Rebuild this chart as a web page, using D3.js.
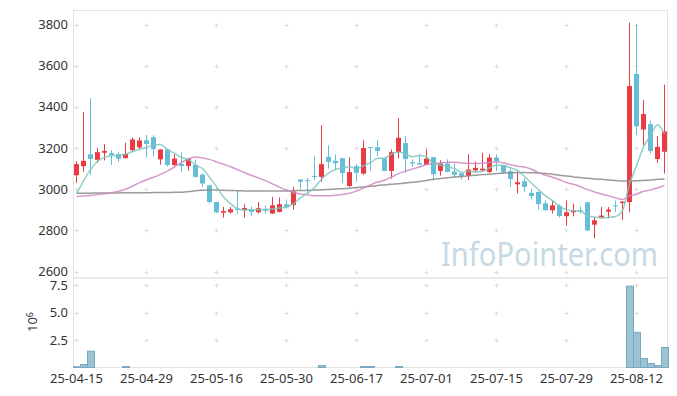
<!DOCTYPE html>
<html>
<head>
<meta charset="utf-8">
<script src="https://cdn.jsdelivr.net/npm/d3@7/dist/d3.min.js"></script>
<style>
body{margin:0;background:#fff}
text{font-family:"Noto Sans",sans-serif}
</style>
</head>
<body>
<svg id="main" width="677" height="396"></svg>
<script>
// trading days (yy-mm-dd)
const dates = [
 "25-04-15","25-04-16","25-04-17","25-04-18","25-04-21","25-04-22","25-04-23","25-04-24","25-04-25","25-04-28",
 "25-04-29","25-04-30","25-05-02","25-05-07","25-05-08","25-05-09","25-05-12","25-05-13","25-05-14","25-05-15",
 "25-05-16","25-05-19","25-05-20","25-05-21","25-05-22","25-05-23","25-05-26","25-05-27","25-05-28","25-05-29",
 "25-05-30","25-06-02","25-06-04","25-06-05","25-06-09","25-06-10","25-06-11","25-06-12","25-06-13","25-06-16",
 "25-06-17","25-06-18","25-06-19","25-06-20","25-06-23","25-06-24","25-06-25","25-06-26","25-06-27","25-06-30",
 "25-07-01","25-07-02","25-07-03","25-07-04","25-07-07","25-07-08","25-07-09","25-07-10","25-07-11","25-07-14",
 "25-07-15","25-07-16","25-07-17","25-07-18","25-07-21","25-07-22","25-07-23","25-07-24","25-07-25","25-07-28",
 "25-07-29","25-07-30","25-07-31","25-08-01","25-08-04","25-08-05","25-08-06","25-08-07","25-08-08","25-08-11",
 "25-08-12","25-08-13","25-08-14","25-08-18","25-08-19"
];
const open = [
 3068,3112,3170,3143,3177,3175,3170,3151,3190,3203, 3238,3253,3145,3193,3118,3123,3113,3118,3071,3019,
 2938,2886,2888,2906,2898,2903,2888,2905,2882,2890, 2927,2924,3047,3044,3065,3060,3157,3138,3151,3016,
 3112,3076,3205,3204,3151,3089,3180,3224,3131,3127, 3118,3156,3089,3125,3086,3078,3065,3092,3092,3084,
 3154,3117,3088,3024,3039,2982,2987,2932,2898,2920, 2869,2888,2898,2937,2828,2862,2891,2921,2933,2938,
 3560,3290,3316,3147,3182
];
const high = [
 3136,3375,3443,3200,3219,3190,3180,3225,3252,3252, 3263,3262,3195,3196,3170,3181,3150,3145,3076,3023,
 2940,2914,2914,2995,2927,2917,2938,2922,2963,2960, 2950,3011,3048,3055,3160,3310,3213,3170,3152,3155,
 3122,3238,3206,3238,3152,3193,3345,3258,3145,3170, 3193,3157,3141,3145,3125,3079,3170,3135,3177,3170,
 3170,3118,3100,3083,3052,3003,2988,2946,2943,2927, 2946,2930,2917,2938,2865,2914,2914,2946,2941,3809,
 3803,3433,3333,3258,3508
];
const low = [
 3031,3084,3070,3130,3140,3117,3133,3150,3180,3195, 3155,3160,3120,3110,3113,3085,3090,3057,3011,2930,
 2885,2862,2882,2882,2862,2869,2882,2882,2880,2888, 2906,2901,2998,2982,3044,3036,3100,3092,3031,3011,
 3036,3070,3090,3160,3088,3052,3149,3079,3108,3118, 3117,3044,3066,3083,3054,3047,3044,3083,3084,3079,
 3089,3079,3011,2979,2987,2950,2901,2897,2882,2862, 2823,2869,2882,2797,2762,2857,2859,2888,2851,2888,
 3264,3214,3174,3128,3076
];
const close = [
 3122,3138,3147,3180,3186,3165,3148,3172,3242,3237, 3220,3195,3193,3118,3149,3113,3149,3060,3028,2938,
 2888,2894,2903,2900,2909,2890,2908,2896,2922,2927, 2914,2989,3036,3040,3060,3122,3133,3126,3079,3083,
 3080,3200,3202,3186,3089,3180,3250,3147,3125,3120, 3149,3073,3125,3084,3070,3065,3096,3104,3100,3154,
 3135,3081,3050,3034,3011,2967,2928,2898,2922,2870, 2888,2898,2892,2800,2849,2872,2901,2917,2940,3501,
 3306,3365,3186,3206,3281
];
// volume, millions of shares
const volume = [
 0.07,0.27,1.48,0.02,0.02,0.02,0.02,0.09,0.02,0.02, 0.02,0.02,0.02,0.02,0.02,0.02,0.02,0.02,0.02,0.02,
 0.02,0.02,0.02,0.02,0.02,0.02,0.02,0.02,0.02,0.02, 0.02,0.02,0.02,0.02,0.02,0.18,0.02,0.02,0.02,0.02,
 0.02,0.09,0.09,0.02,0.02,0.02,0.09,0.02,0.02,0.02, 0.02,0.02,0.02,0.02,0.02,0.02,0.02,0.02,0.02,0.02,
 0.02,0.02,0.02,0.02,0.02,0.02,0.02,0.02,0.02,0.02, 0.02,0.02,0.02,0.02,0.02,0.02,0.02,0.02,0.02,7.4,
 3.2,0.82,0.36,0.18,1.82
];
// moving averages
const ma5 = [
 2978,3040,3095,3135,3155,3163,3165,3170,3183,3193, 3204,3213,3217,3193,3175,3154,3144,3118,3100,3058,
 3013,2962,2930,2905,2899,2899,2902,2901,2905,2909, 2913,2930,2958,2981,3008,3049,3078,3096,3104,3109,
 3100,3114,3129,3150,3151,3171,3181,3170,3158,3164, 3158,3123,3118,3110,3100,3083,3088,3084,3087,3104,
 3118,3115,3104,3091,3062,3029,2998,2968,2945,2917, 2901,2895,2894,2870,2865,2862,2863,2868,2896,3026,
 3113,3206,3260,3313,3269
];
const ma20 = [
 2965,2967,2970,2974,2978,2983,2990,3000,3015,3032, 3046,3058,3072,3088,3108,3130,3148,3156,3152,3145,
 3133,3121,3109,3095,3081,3067,3055,3042,3026,3010, 2995,2984,2977,2973,2968,2969,2968,2971,2974,2981,
 2991,3006,3021,3035,3044,3059,3076,3088,3098,3108, 3120,3124,3128,3131,3131,3128,3126,3125,3126,3130,
 3133,3127,3119,3112,3108,3097,3081,3068,3058,3046, 3033,3024,3012,2998,2987,2977,2968,2958,2950,2968,
 2976,2990,2997,3006,3019
];
const ma60 = [
 2981,2981,2981,2982,2982,2982,2982,2983,2983,2983, 2983,2984,2984,2984,2985,2985,2988,2993,2995,2996,
 2996,2995,2994,2993,2992,2991,2991,2991,2992,2992, 2992,2993,2994,2995,2996,2997,2999,3001,3003,3005,
 3008,3011,3014,3018,3021,3024,3027,3030,3034,3038, 3043,3048,3052,3056,3059,3062,3065,3068,3071,3073,
 3076,3078,3080,3081,3081,3080,3079,3077,3073,3068, 3064,3060,3057,3053,3050,3048,3045,3043,3040,3040,
 3041,3043,3045,3048,3050
];
const priceTicks = [2600,2800,3000,3200,3400,3600,3800];
const volTicks = [2.5,5.0,7.5];
const dateTicks = ["25-04-15","25-04-29","25-05-16","25-05-30","25-06-17","25-07-01","25-07-15","25-07-29","25-08-12"];

const svg = d3.select("#main");
const left = 73.5, right = 667.5;
const pTop = 10.5, pBot = 278, vBot = 367.5;

let x = d3.scaleBand().domain(dates).range([73, 668]).padding(0);
let cx = d => x(d) + x.bandwidth()/2;
let py = d3.scaleLinear().domain([2569, 3868]).range([pBot, pTop]);
let vy = d3.scaleLinear().domain([0, 8.14]).range([vBot, pBot]);

// panel frames
const frame = "#e3e3e3";
svg.append("rect").attr("x",left).attr("y",pTop).attr("width",right-left).attr("height",pBot-pTop)
   .attr("fill","none").attr("stroke",frame);
svg.append("rect").attr("x",left).attr("y",pBot).attr("width",right-left).attr("height",vBot-pBot)
   .attr("fill","none").attr("stroke",frame);

// grid crosses
let gx = dateTicks.map(d => cx(d));
let crosses = [];
gx.forEach(a => {
    priceTicks.forEach(b => crosses.push([a, py(b)]));
    volTicks.forEach(b => crosses.push([a, vy(b)]));
});
svg.append("g").selectAll("path").data(crosses).enter().append("path")
   .attr("d", d => `M${d[0]-2},${Math.round(d[1])+0.5}h4M${d[0]},${Math.round(d[1])-1.5}v4`)
   .attr("stroke","#dcdcdc").attr("stroke-width",1);

// watermark
svg.append("text").attr("x",441).attr("y",266)
   .attr("textLength",217).attr("lengthAdjust","spacingAndGlyphs")
   .style("font-size","32px").attr("fill","#c6d9e4")
   .text("InfoPointer.com");

// volume bars
svg.append("g").selectAll("rect").data(dates.filter((d,i) => vy(0)-vy(volume[i]) >= 0.6))
   .enter().append("rect")
   .attr("x", d => x(d)+0.5)
   .attr("width", x.bandwidth())
   .attr("y", d => vy(volume[dates.indexOf(d)]))
   .attr("height", d => vy(0)-vy(volume[dates.indexOf(d)]))
   .attr("fill","#9cc3d4").attr("stroke","#78a9c0").attr("stroke-width",1);

// candles
const upC = "#ea3b42", dnC = "#66bdd7";
let candle = svg.append("g").selectAll("g").data(dates).enter().append("g");
candle.append("line")
   .attr("x1", cx).attr("x2", cx)
   .attr("y1", (d,i) => py(high[i])).attr("y2", (d,i) => py(low[i]))
   .attr("stroke", (d,i) => close[i] >= open[i] ? upC : dnC).attr("stroke-width",1);
candle.append("rect")
   .attr("x", d => cx(d)-2.5).attr("width",5)
   .attr("y", (d,i) => py(Math.max(open[i],close[i])))
   .attr("height", (d,i) => Math.max(1, py(Math.min(open[i],close[i])) - py(Math.max(open[i],close[i]))))
   .attr("fill", (d,i) => close[i] >= open[i] ? upC : dnC);

// moving average lines
let maLine = vals => d3.line().x((d,i) => cx(dates[i])).y(d => py(d)).curve(d3.curveMonotoneX)(vals);
[[ma60,"#8a8a8a"],[ma20,"#cc88c4"],[ma5,"#7fc7c0"]].forEach(m => {
    svg.append("path").attr("d", maLine(m[0])).attr("fill","none")
       .attr("stroke", m[1]).attr("stroke-width",1.5).attr("opacity",0.85);
});

// axis labels
svg.append("g").selectAll("text").data(priceTicks).enter().append("text")
   .attr("x",68).attr("y", d => py(d)).attr("dy","0.35em")
   .attr("text-anchor","end").style("font-size","13px").attr("fill","#333")
   .text(d => d);
svg.append("g").selectAll("text").data(volTicks).enter().append("text")
   .attr("x",68).attr("y", d => vy(d)).attr("dy","0.35em")
   .attr("text-anchor","end").style("font-size","13px").attr("fill","#333")
   .text(d => d.toFixed(1));
svg.append("g").selectAll("text").data(dateTicks).enter().append("text")
   .attr("x", d => cx(d)).attr("y",383)
   .attr("text-anchor","middle").style("font-size","13px").attr("fill","#333")
   .text(d => d);

let unit = svg.append("text").attr("transform","translate(37,322) rotate(-90)")
   .attr("text-anchor","middle").style("font-size","13px").attr("fill","#333");
unit.append("tspan").text("10");
unit.append("tspan").attr("dy","-0.5em").style("font-size","9px").text("6");
</script>
</body>
</html>
